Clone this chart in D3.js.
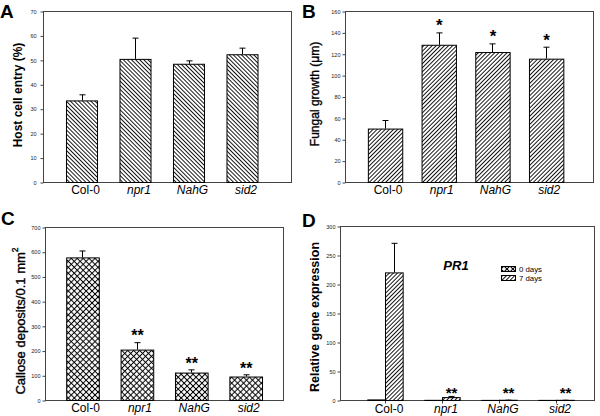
<!DOCTYPE html>
<html><head><meta charset="utf-8">
<script src="https://cdn.jsdelivr.net/npm/d3@7"></script>
<style>
body{margin:0;background:#fff}
svg{display:block;font-family:"Liberation Sans",Arial,sans-serif}
</style>
</head><body><svg id="c" width="600" height="416"></svg>
<script>
// ---------- data ----------
const categories = ["Col-0", "npr1", "NahG", "sid2"];
const italicCategory = [false, true, true, true];

// A: host cell entry (%)
const entryValues = [33.4, 50.4, 48.4, 52.3];
const entrySE     = [2.5, 8.7, 1.4, 2.7];
const entryTicks  = [0, 10, 20, 30, 40, 50, 60, 70];

// B: fungal growth (µm)
const growthValues = [50, 128.4, 121.6, 115.4];
const growthSE     = [8, 11.6, 8.1, 11.2];
const growthStars  = ["", "*", "*", "*"];
const growthTicks  = [0, 20, 40, 60, 80, 100, 120, 140, 160];

// C: callose deposits / 0.1 mm2
const calloseValues = [577, 204, 111, 95];
const calloseSE     = [28, 30, 13, 9];
const calloseStars  = ["", "**", "**", "**"];
const calloseTicks  = [0, 100, 200, 300, 400, 500, 600, 700];

// D: PR1 relative expression
const seriesNames = ["0 days", "7 days"];
const pr1Day0   = [1, 0.3, 0.2, 0.2];
const pr1Day0SE = [0, 0, 0, 0];
const pr1Day7   = [220, 5, 0.4, 0.3];
const pr1Day7SE = [51, 2, 0.1, 0.1];
const pr1Stars  = ["", "**", "**", "**"];
const pr1Ticks  = [0, 50, 100, 150, 200, 250, 300];

// ---------- drawing ----------
const svg = d3.select("#c");
const defs = svg.append("defs");
const FRAME = "#444";

function linePattern(id, angle, s, w) {
  const p = defs.append("pattern").attr("id", id)
    .attr("patternUnits", "userSpaceOnUse")
    .attr("width", s).attr("height", s)
    .attr("patternTransform", `rotate(${angle})`);
  p.append("rect").attr("width", s).attr("height", s).attr("fill", "#fff");
  p.append("line").attr("x1", s / 2).attr("x2", s / 2).attr("y1", -1).attr("y2", s + 1)
    .attr("stroke", "#000").attr("stroke-width", w);
}
function crossPattern(id, s, w) {
  const p = defs.append("pattern").attr("id", id)
    .attr("patternUnits", "userSpaceOnUse")
    .attr("width", s).attr("height", s)
    .attr("patternTransform", "rotate(45)");
  p.append("rect").attr("width", s).attr("height", s).attr("fill", "#fff");
  p.append("line").attr("x1", s / 2).attr("x2", s / 2).attr("y1", -1).attr("y2", s + 1)
    .attr("stroke", "#000").attr("stroke-width", w);
  p.append("line").attr("y1", s / 2).attr("y2", s / 2).attr("x1", -1).attr("x2", s + 1)
    .attr("stroke", "#000").attr("stroke-width", w);
}
linePattern("back", -45, 2.9, 0.9);
linePattern("fwd", 45, 2.9, 0.9);
crossPattern("cross", 4.2, 1);

function frameAndAxis(g, f, y, ticks, tickPad) {
  g.append("rect").attr("x", f.l + 0.5).attr("y", f.t + 0.5)
    .attr("width", f.r - f.l).attr("height", f.b - f.t)
    .attr("fill", "none").attr("stroke", FRAME).attr("stroke-width", 1);
  const ax = g.append("g").attr("transform", `translate(${f.l + 0.5},0.5)`)
    .call(d3.axisLeft(y).tickValues(ticks).tickSize(3).tickPadding(tickPad).tickFormat(d3.format("d")));
  ax.select(".domain").remove();
  ax.selectAll(".tick line").attr("stroke", FRAME);
  ax.selectAll(".tick text").attr("font-size", 5.5).attr("fill", "#222")
    .attr("font-family", "Liberation Sans, Arial, sans-serif");
}

function catLabels(g, x, f, dx, dy) {
  g.selectAll("text.cat").data(categories).join("text").attr("class", "cat")
    .attr("x", d => x(d) + x.bandwidth() / 2 + dx)
    .attr("y", f.b + dy)
    .attr("text-anchor", "middle").attr("font-size", 12)
    .attr("font-style", (d, i) => italicCategory[i] ? "italic" : "normal")
    .text(d => d);
}

function yLabel(g, x, cy, size, weight, parts, thicken) {
  const t = g.append("text").attr("transform", `translate(${x},${cy}) rotate(-90)`)
    .attr("text-anchor", "middle").attr("dominant-baseline", "central")
    .attr("font-size", size).attr("font-weight", weight);
  if (thicken) t.attr("stroke", "#000").attr("stroke-width", 0.35);
  parts.forEach(p => {
    const ts = t.append("tspan").text(p.t);
    if (p.sup) ts.attr("font-size", size * 0.65).attr("dy", -size * 0.4);
  });
}

function letter(g, txt, x, y) {
  g.append("text").attr("x", x).attr("y", y).attr("font-size", 19)
    .attr("font-weight", "bold").text(txt);
}

function barPanel(o) {
  const g = svg.append("g");
  const f = o.frame;
  const y = d3.scaleLinear().domain([0, o.max]).range([f.b, f.t]);
  const x = d3.scaleBand().domain(categories).range(o.band)
    .paddingInner(o.pad).paddingOuter(o.pad / 2);
  frameAndAxis(g, f, y, o.ticks, o.tickPad);
  const data = categories.map((c, i) => ({c, v: o.values[i], e: o.se[i], s: o.stars ? o.stars[i] : ""}));
  g.selectAll("rect.bar").data(data).join("rect").attr("class", "bar")
    .attr("x", d => x(d.c) + 0.5).attr("y", d => y(d.v) + 0.5)
    .attr("width", x.bandwidth()).attr("height", d => y(0) - y(d.v))
    .attr("fill", `url(#${o.pattern})`).attr("stroke", "#000").attr("stroke-width", 1);
  const eb = g.selectAll("g.err").data(data).join("g").attr("class", "err");
  eb.append("line").attr("x1", d => Math.round(x(d.c) + x.bandwidth() / 2) + 0.5)
    .attr("x2", d => Math.round(x(d.c) + x.bandwidth() / 2) + 0.5)
    .attr("y1", d => y(d.v)).attr("y2", d => y(d.v + d.e) + 0.5)
    .attr("stroke", "#000");
  eb.append("line").attr("x1", d => Math.round(x(d.c) + x.bandwidth() / 2) - 2.5)
    .attr("x2", d => Math.round(x(d.c) + x.bandwidth() / 2) + 3.5)
    .attr("y1", d => y(d.v + d.e) + 0.5).attr("y2", d => y(d.v + d.e) + 0.5)
    .attr("stroke", "#000");
  if (o.stars) {
    g.selectAll("text.star").data(data.filter(d => d.s)).join("text").attr("class", "star")
      .attr("x", d => x(d.c) + x.bandwidth() / 2 + 0.5)
      .attr("y", d => y(d.v + d.e) - o.starGap + o.starSize * 0.58)
      .attr("text-anchor", "middle").attr("font-size", o.starSize).attr("font-weight", "bold")
      .text(d => d.s);
  }
  catLabels(g, x, f, o.labelDx, 12);
  yLabel(g, o.ylx, o.yly, o.ylSize, o.ylWeight, o.ylParts, o.thicken);
  letter(g, o.letter, o.lx, o.ly);
}

// Panel A
barPanel({
  frame: {l: 43, r: 291, t: 11, b: 182}, max: 70, ticks: entryTicks, tickPad: 4,
  band: [54.75, 268.75], pad: 0.42, values: entryValues, se: entrySE, pattern: "back",
  labelDx: 4, ylx: 18, yly: 95, ylSize: 12, ylWeight: "bold",
  ylParts: [{t: "Host cell entry (%)"}], letter: "A", lx: 0, ly: 17.5
});
// Panel B
barPanel({
  frame: {l: 345, r: 593, t: 11, b: 182}, max: 160, ticks: growthTicks, tickPad: 2,
  band: [358.2, 573], pad: 0.36, values: growthValues, se: growthSE, pattern: "fwd",
  stars: growthStars, starSize: 17, starGap: 11,
  labelDx: 3, ylx: 315, yly: 94, ylSize: 12, ylWeight: "normal", thicken: true,
  ylParts: [{t: "Fungal growth (\u03bcm)"}], letter: "B", lx: 302, ly: 17.5
});
// Panel C
barPanel({
  frame: {l: 45, r: 283, t: 227, b: 400}, max: 700, ticks: calloseTicks, tickPad: 2,
  band: [55.3, 272.9], pad: 0.4, values: calloseValues, se: calloseSE, pattern: "cross",
  stars: calloseStars, starSize: 16, starGap: 10,
  labelDx: 3, ylx: 20, yly: 321, ylSize: 13, ylWeight: "normal", thicken: true,
  ylParts: [{t: "Callose deposits/0.1 mm"}, {t: "2", sup: true}], letter: "C", lx: 1, ly: 225
});

// Panel D (grouped)
(function () {
  const g = svg.append("g");
  const f = {l: 340, r: 594, t: 226, b: 400};
  const y = d3.scaleLinear().domain([0, 300]).range([f.b, f.t]);
  const x = d3.scaleBand().domain(categories).range([356.5, 584.5]).paddingInner(0.38).paddingOuter(0.19);
  const x1 = d3.scaleBand().domain(seriesNames).range([0, x.bandwidth()]);
  const patt = {"0 days": "cross", "7 days": "fwd"};
  frameAndAxis(g, f, y, pr1Ticks, 2);
  g.selectAll("line.xt").data(categories).join("line").attr("class", "xt")
    .attr("x1", d => Math.round(x(d) + x.bandwidth() / 2) + 0.5)
    .attr("x2", d => Math.round(x(d) + x.bandwidth() / 2) + 0.5)
    .attr("y1", f.b + 0.5).attr("y2", f.b + 3.5).attr("stroke", FRAME);
  const rows = [];
  categories.forEach((c, i) => {
    rows.push({c, s: "0 days", v: pr1Day0[i], e: pr1Day0SE[i], star: ""});
    rows.push({c, s: "7 days", v: pr1Day7[i], e: pr1Day7SE[i], star: pr1Stars[i]});
  });
  g.selectAll("rect.bar").data(rows).join("rect").attr("class", "bar")
    .attr("x", d => x(d.c) + x1(d.s) + 0.5).attr("y", d => y(d.v) + 0.5)
    .attr("width", x1.bandwidth()).attr("height", d => y(0) - y(d.v))
    .attr("fill", d => `url(#${patt[d.s]})`).attr("stroke", "#000").attr("stroke-width", 1);
  const cx = d => Math.round(x(d.c) + x1(d.s) + x1.bandwidth() / 2);
  const withErr = rows.filter(d => d.e > 0);
  g.selectAll("line.ev").data(withErr).join("line").attr("class", "ev")
    .attr("x1", d => cx(d) + 0.5).attr("x2", d => cx(d) + 0.5)
    .attr("y1", d => y(d.v)).attr("y2", d => y(d.v + d.e) + 0.5).attr("stroke", "#000");
  g.selectAll("line.ec").data(withErr).join("line").attr("class", "ec")
    .attr("x1", d => cx(d) - 2.5).attr("x2", d => cx(d) + 3.5)
    .attr("y1", d => y(d.v + d.e) + 0.5).attr("y2", d => y(d.v + d.e) + 0.5).attr("stroke", "#000");
  const starSize = 15;
  g.selectAll("text.star").data(rows.filter(d => d.star)).join("text").attr("class", "star")
    .attr("x", d => cx(d) + 0.5)
    .attr("y", d => Math.min(y(d.v + d.e) - 6, y(0) - 10.5) + starSize * 0.58)
    .attr("text-anchor", "middle").attr("font-size", starSize).attr("font-weight", "bold")
    .text(d => d.star);
  catLabels(g, x, f, 4, 13);
  yLabel(g, 315, 317, 12.5, "bold", [{t: "Relative gene expression"}]);
  letter(g, "D", 302, 227);
  g.append("text").attr("x", 456).attr("y", 270).attr("text-anchor", "middle")
    .attr("font-size", 13).attr("font-weight", "bold").attr("font-style", "italic").text("PR1");
  const lg = g.selectAll("g.leg").data(seriesNames).join("g").attr("class", "leg")
    .attr("transform", (d, i) => `translate(501,${266 + i * 9})`);
  lg.append("rect").attr("x", 0.5).attr("y", 0.5).attr("width", 14).attr("height", 5)
    .attr("fill", d => `url(#${patt[d]})`).attr("stroke", "#000").attr("stroke-width", 1);
  lg.append("text").attr("x", 18).attr("y", 3).attr("dominant-baseline", "central")
    .attr("font-size", 7.8).text(d => d);
})();
</script>
</body></html>
